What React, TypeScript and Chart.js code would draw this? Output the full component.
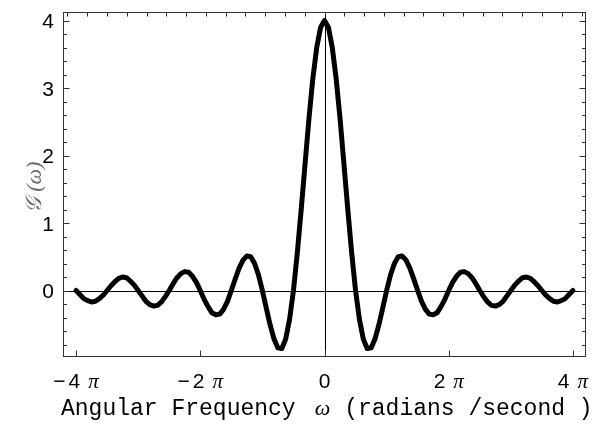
import { useEffect, useRef } from "react";
import { Chart, registerables } from "chart.js";

Chart.register(...registerables);

// Sample positions, in units of π (radians / second)
const omegaOverPi = [
  -4, -3.9375, -3.875, -3.8125, -3.75, -3.6875, -3.625, -3.5625,
  -3.5, -3.4375, -3.375, -3.3125, -3.25, -3.1875, -3.125, -3.0625,
  -3, -2.9375, -2.875, -2.8125, -2.75, -2.6875, -2.625, -2.5625,
  -2.5, -2.4375, -2.375, -2.3125, -2.25, -2.1875, -2.125, -2.0625,
  -2, -1.9375, -1.875, -1.8125, -1.75, -1.6875, -1.625, -1.5625,
  -1.5, -1.4375, -1.375, -1.3125, -1.25, -1.1875, -1.125, -1.0625,
  -1, -0.9375, -0.875, -0.8125, -0.75, -0.6875, -0.625, -0.5625,
  -0.5, -0.4375, -0.375, -0.3125, -0.25, -0.1875, -0.125, -0.0625,
  0,
  0.0625, 0.125, 0.1875, 0.25, 0.3125, 0.375, 0.4375, 0.5,
  0.5625, 0.625, 0.6875, 0.75, 0.8125, 0.875, 0.9375, 1,
  1.0625, 1.125, 1.1875, 1.25, 1.3125, 1.375, 1.4375, 1.5,
  1.5625, 1.625, 1.6875, 1.75, 1.8125, 1.875, 1.9375, 2,
  2.0625, 2.125, 2.1875, 2.25, 2.3125, 2.375, 2.4375, 2.5,
  2.5625, 2.625, 2.6875, 2.75, 2.8125, 2.875, 2.9375, 3,
  3.0625, 3.125, 3.1875, 3.25, 3.3125, 3.375, 3.4375, 3.5,
  3.5625, 3.625, 3.6875, 3.75, 3.8125, 3.875, 3.9375, 4,
];

// G(ω) at each sample
const gOfOmega = [
  0, -0.06, -0.12, -0.15, -0.17, -0.16, -0.12, -0.07,
  0, 0.07, 0.13, 0.18, 0.2, 0.19, 0.14, 0.08,
  0, -0.08, -0.16, -0.21, -0.23, -0.22, -0.17, -0.09,
  0, 0.1, 0.19, 0.25, 0.28, 0.27, 0.21, 0.12,
  0, -0.13, -0.24, -0.33, -0.36, -0.35, -0.28, -0.16,
  0, 0.17, 0.33, 0.45, 0.51, 0.5, 0.4, 0.23,
  0, -0.26, -0.51, -0.72, -0.85, -0.86, -0.72, -0.43,
  0, 0.56, 1.2, 1.88, 2.55, 3.14, 3.6, 3.9,
  4.0,
  3.9, 3.6, 3.14, 2.55, 1.88, 1.2, 0.56, 0,
  -0.43, -0.72, -0.86, -0.85, -0.72, -0.51, -0.26, 0,
  0.23, 0.4, 0.5, 0.51, 0.45, 0.33, 0.17, 0,
  -0.16, -0.28, -0.35, -0.36, -0.33, -0.24, -0.13, 0,
  0.12, 0.21, 0.27, 0.28, 0.25, 0.19, 0.1, 0,
  -0.09, -0.17, -0.22, -0.23, -0.21, -0.16, -0.08, 0,
  0.08, 0.14, 0.19, 0.2, 0.18, 0.13, 0.07, 0,
  -0.07, -0.12, -0.16, -0.17, -0.15, -0.12, -0.06, 0,
];

// Bottom tick labels: multiples of π
const xTickMultiples = [-4, -2, 0, 2, 4];
// Left tick labels
const yTickValues = [0, 1, 2, 3, 4];

const xTitleWords = "Angular Frequency";
const xTitleSymbol = "ω";
const xTitleUnits = "(radians /second )";
const yTitle = "𝒢 (ω)";

const SANS = '"Liberation Sans", Arial, Helvetica, sans-serif';
const SERIF = '"Liberation Serif", "DejaVu Serif", serif';
const MONO = '"Courier New", "Liberation Mono", monospace';

const framePlugin = {
  id: "mmaFrame",
  beforeDatasetsDraw(chart: any) {
    const { ctx, chartArea: a, scales } = chart;
    const xs = scales.x;
    const ys = scales.y;
    const px = (v: number) => Math.round(xs.getPixelForValue(v)) + 0.5;
    const py = (v: number) => Math.round(ys.getPixelForValue(v)) + 0.5;
    const L = Math.round(a.left) + 0.5;
    const R = Math.round(a.right) - 0.5;
    const T = Math.round(a.top) + 0.5;
    const B = Math.round(a.bottom) - 0.5;
    const seg = (x1: number, y1: number, x2: number, y2: number) => {
      ctx.beginPath();
      ctx.moveTo(x1, y1);
      ctx.lineTo(x2, y2);
      ctx.stroke();
    };

    ctx.save();
    ctx.lineWidth = 1;

    // axes through the origin
    ctx.strokeStyle = "#000";
    seg(L, py(0), R, py(0));
    seg(px(0), T, px(0), B);

    // frame
    ctx.strokeStyle = "#333";
    ctx.strokeRect(L, T, R - L, B - T);

    // left / right ticks every 0.2, longer on integers
    for (let i = -4; i <= 20; i++) {
      const v = i / 5;
      if (v < ys.min || v > ys.max) continue;
      const y = py(v);
      const len = i % 5 === 0 ? 6 : 3.5;
      seg(L, y, L + len, y);
      seg(R, y, R - len, y);
    }

    // bottom ticks at labelled multiples of π
    for (const m of xTickMultiples) {
      const x = px(m);
      seg(x, B, x, B - 6);
    }

    // top ticks every radian
    for (let r = -13; r <= 13; r++) {
      const v = r / Math.PI;
      if (v < xs.min || v > xs.max) continue;
      const x = px(v);
      seg(x, T, x, T + 4);
    }
    ctx.restore();
  },
  afterDraw(chart: any) {
    const { ctx, chartArea: a, scales } = chart;
    const xs = scales.x;
    const ys = scales.y;
    ctx.save();
    ctx.fillStyle = "#000";
    ctx.textBaseline = "alphabetic";

    // left tick labels
    ctx.font = `21px ${SANS}`;
    ctx.textAlign = "right";
    for (const v of yTickValues) {
      ctx.fillText(String(v), a.left - 9, ys.getPixelForValue(v) + 7.5);
    }

    // bottom tick labels, "n π"
    ctx.textAlign = "left";
    const baseY = 388;
    for (const m of xTickMultiples) {
      const cx = xs.getPixelForValue(m);
      if (m === 0) {
        ctx.font = `21px ${SANS}`;
        const w = ctx.measureText("0").width;
        ctx.fillText("0", cx - w / 2, baseY);
        continue;
      }
      ctx.font = `21px ${SANS}`;
      const sign = m < 0 ? "−" : "";
      const num = String(Math.abs(m));
      const wSign = sign ? ctx.measureText(sign).width + 3 : 0;
      const wNum = ctx.measureText(num).width;
      ctx.font = `italic 21px ${SERIF}`;
      const wPi = ctx.measureText("π").width;
      const gap = 8;
      const total = wSign + wNum + gap + wPi;
      let x = cx - total / 2;
      ctx.font = `21px ${SANS}`;
      if (sign) {
        ctx.fillText(sign, x, baseY);
        x += wSign;
      }
      ctx.fillText(num, x, baseY);
      x += wNum + gap;
      ctx.font = `italic 21px ${SERIF}`;
      ctx.fillText("π", x, baseY);
    }

    // x title
    const titleY = 415;
    let tx = 61;
    ctx.font = `23px ${MONO}`;
    ctx.fillText(xTitleWords, tx, titleY);
    tx += ctx.measureText(xTitleWords).width + 19;
    ctx.font = `italic 22px ${SERIF}`;
    ctx.fillText(xTitleSymbol, tx, titleY);
    tx += ctx.measureText(xTitleSymbol).width + 14;
    ctx.font = `23px ${MONO}`;
    ctx.fillText(xTitleUnits, tx, titleY);

    // y title, rotated
    ctx.save();
    ctx.translate(41, (a.top + a.bottom) / 2 + 3);
    ctx.rotate(-Math.PI / 2);
    ctx.font = `italic 22px ${SERIF}`;
    ctx.fillStyle = "#6a6a6a";
    ctx.textAlign = "center";
    ctx.fillText(yTitle, 0, 0);
    ctx.restore();

    ctx.restore();
  },
};

export default function App() {
  const canvasRef = useRef<HTMLCanvasElement | null>(null);

  useEffect(() => {
    const canvas = canvasRef.current;
    if (!canvas) return;
    const chart = new Chart(canvas, {
      type: "line",
      data: {
        datasets: [
          {
            data: omegaOverPi.map((x, i) => ({ x, y: gOfOmega[i] })),
            borderColor: "#000",
            borderWidth: 5,
            borderJoinStyle: "round",
            borderCapStyle: "round",
            pointRadius: 0,
            tension: 0,
            fill: false,
          },
        ],
      },
      options: {
        animation: false,
        responsive: false,
        maintainAspectRatio: false,
        events: [],
        layout: { padding: { left: 63, top: 12, right: 9, bottom: 70 } },
        scales: {
          x: { type: "linear", min: -4.21, max: 4.21, display: false },
          y: { type: "linear", min: -0.985, max: 4.126, display: false },
        },
        plugins: {
          legend: { display: false },
          tooltip: { enabled: false },
        },
      },
      plugins: [framePlugin],
    } as any);
    return () => chart.destroy();
  }, []);

  return (
    <div style={{ position: "absolute", left: 0, top: 0, width: 595, height: 427, background: "#fff" }}>
      <canvas ref={canvasRef} width={595} height={427} style={{ display: "block" }} />
    </div>
  );
}
